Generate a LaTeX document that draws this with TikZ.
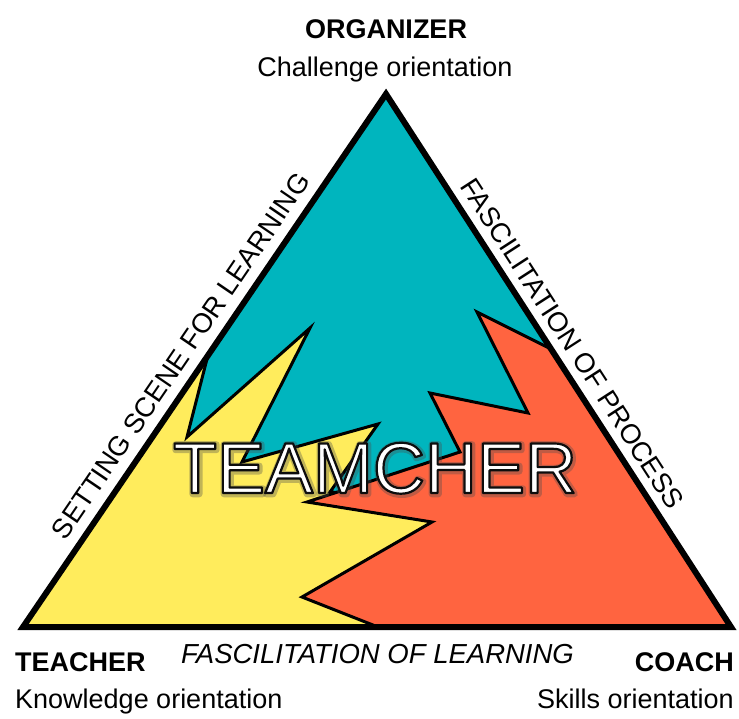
\documentclass[tikz,border=0pt]{standalone}
\usepackage{fontspec}
\setmainfont{Liberation Sans}
\definecolor{teamteal}{RGB}{0,181,190}
\definecolor{teamyellow}{RGB}{255,236,92}
\definecolor{teamorange}{RGB}{255,100,64}
% text drawn filled and stroked: #1 stroke grey level, #2 stroke width, #3 text
\newcommand{\strokedtext}[3]{%
  \special{pdf:literal direct #1 G 2 Tr #2 w 1 j}#3\special{pdf:literal direct 0 Tr}}
\begin{document}
\begin{tikzpicture}[x=1pt,y=-1pt,
  region/.style={draw=black,line width=3pt,line join=miter},
  frame/.style={draw=black,line width=6pt,line join=miter},
  rolehead/.style={font=\fontsize{27}{27}\selectfont\bfseries,inner sep=0pt},
  rolenote/.style={font=\fontsize{27}{27}\selectfont,inner sep=0pt},
  sidelabel/.style={font=\fontsize{27.5}{27.5}\selectfont,inner sep=0pt,anchor=base},
  bigword/.style={font=\fontsize{72}{72}\selectfont,inner sep=0pt,anchor=base}
]
\useasboundingbox (0,0) rectangle (739,718);

% corners of the triangle
\coordinate (A) at (386,94);
\coordinate (B) at (23,627);
\coordinate (C) at (731,627);

% top role area
\fill[teamteal] (A) -- (B) -- (C) -- cycle;

% left role area (knowledge)
\filldraw[fill=teamyellow,region]
  (B) -- (208,355) -- (187,437) -- (310,328) -- (242,462) -- (378,424)
  -- (330,492) -- (450,500) -- (450,560) -- (420,627) -- cycle;

% right role area (skills)
\filldraw[fill=teamorange,region]
  (551,349) -- (477,312) -- (528,413) -- (430,393) -- (460,452)
  -- (307,502) -- (432,522) -- (302,597) -- (378,627) -- (C) -- cycle;

% outer frame
\draw[frame] (A) -- (B) -- (C) -- cycle;

% labels along the sides
\node[sidelabel,rotate=55.74] (left) at (188.5,361.2) {SETTING SCENE FOR LEARNING};
\node[sidelabel,rotate=-57.08] (right) at (564.2,348.5) {FASCILITATION OF PROCESS};
\node[sidelabel,font=\fontsize{27.5}{27.5}\selectfont\itshape] (bottom) at (377.5,663) {FASCILITATION OF LEARNING};

% role names at the corners
\node[rolehead,anchor=base] (org) at (386,38) {ORGANIZER};
\node[rolenote,anchor=base] (orgnote) at (385,76) {Challenge orientation};
\node[rolehead,anchor=base west] (tea) at (15,671) {TEACHER};
\node[rolenote,anchor=base west] (teanote) at (15,708) {Knowledge orientation};
\node[rolehead,anchor=base east] (coa) at (734,671) {COACH};
\node[rolenote,anchor=base east] (coanote) at (734,708) {Skills orientation};

% central word: soft grey halo under a white, black-edged word
\node[bigword,text opacity=0.35] (halo) at (376,494)
  {\textcolor{black!50}{\strokedtext{0.3}{6.5}{TEAMCHER}}};
\node[bigword] (word) at (375,493)
  {\textcolor{white}{\strokedtext{0.05}{2.2}{TEAMCHER}}};
\end{tikzpicture}
\end{document}
